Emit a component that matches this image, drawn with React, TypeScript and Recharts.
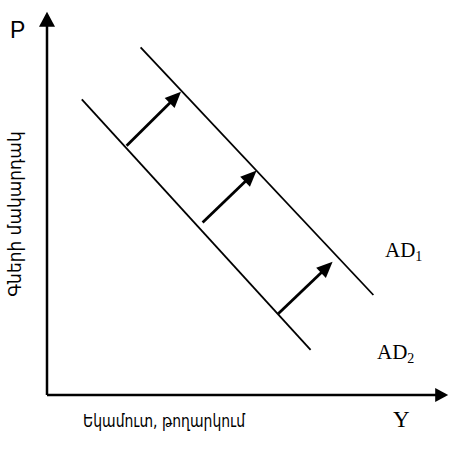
import { ComposedChart, Line, XAxis, YAxis, ReferenceLine } from 'recharts';

// output (Y) and price level (P) coordinates, arbitrary units
const ad1Output = [23.4, 81.6];
const ad1Price = [86.9, 25];
const ad2Output = [8.7, 65.9];
const ad2Price = [73.9, 11.3];

// the three shift arrows from AD2 to AD1
const shiftFromOutput = [19.9, 38.9, 57.8];
const shiftFromPrice = [62.3, 43.1, 20.3];
const shiftToOutput = [33.5, 52.4, 71.4];
const shiftToPrice = [75.8, 56.1, 33.3];

const axisMaxOutput = 100.3;
const axisMaxPrice = 95.8;

const ad1 = ad1Output.map((x, i) => ({ x, p: ad1Price[i] }));
const ad2 = ad2Output.map((x, i) => ({ x, p: ad2Price[i] }));

const font = '"DejaVu Sans", sans-serif';
const latin = '"Liberation Sans", Arial, sans-serif';
const serif = '"Liberation Serif", "Times New Roman", serif';

const arrowShape = (len: number, half: number, width: number) => (props: any) => {
  const { x1, y1, x2, y2 } = props;
  const dx = x2 - x1;
  const dy = y2 - y1;
  const d = Math.sqrt(dx * dx + dy * dy) || 1;
  const ux = dx / d;
  const uy = dy / d;
  const bx = x2 - ux * len;
  const by = y2 - uy * len;
  const pts = [
    [x2, y2],
    [bx - uy * half, by + ux * half],
    [bx + uy * half, by - ux * half],
  ]
    .map((p) => p.join(','))
    .join(' ');
  return (
    <g>
      <line x1={x1} y1={y1} x2={bx + ux * 2} y2={by + uy * 2} stroke="#000" strokeWidth={width} />
      <polygon points={pts} fill="#000" />
    </g>
  );
};

export default function App() {
  return (
    <div style={{ position: 'absolute', left: 0, top: 0, width: 449, height: 459, background: '#fff' }}>
      <ComposedChart width={449} height={459} margin={{ top: 11, right: 2, left: 47, bottom: 64 }}>
        <XAxis type="number" dataKey="x" domain={[0, 100]} hide allowDataOverflow />
        <YAxis type="number" dataKey="p" domain={[0, 96]} hide allowDataOverflow />
        <ReferenceLine
          segment={[{ x: 0, y: 0 }, { x: axisMaxOutput, y: 0 }]}
          ifOverflow="visible"
          shape={arrowShape(13, 7, 2.5)}
        />
        <ReferenceLine
          segment={[{ x: 0, y: 0 }, { x: 0, y: axisMaxPrice }]}
          ifOverflow="visible"
          shape={arrowShape(15, 8, 2.5)}
        />
        <Line data={ad1} dataKey="p" stroke="#000" strokeWidth={1.8} dot={false} isAnimationActive={false} />
        <Line data={ad2} dataKey="p" stroke="#000" strokeWidth={1.8} dot={false} isAnimationActive={false} />
        {shiftFromOutput.map((x, i) => (
          <ReferenceLine
            key={i}
            segment={[{ x, y: shiftFromPrice[i] }, { x: shiftToOutput[i], y: shiftToPrice[i] }]}
            ifOverflow="visible"
            shape={arrowShape(16, 7, 2.8)}
          />
        ))}
        <text x={10} y={38} fontFamily={latin} fontSize={23} fill="#000">P</text>
        <text
          x={15}
          y={214}
          transform="rotate(-90 15 214)"
          textAnchor="middle"
          dominantBaseline="central"
          fontFamily={font}
          fontSize={17}
          fill="#000"
        >
          Գների մակարդակ
        </text>
        <text
          x={83}
          y={427}
          fontFamily={font}
          fontSize={18}
          textLength={162}
          lengthAdjust="spacingAndGlyphs"
          fill="#000"
        >
          Եկամուտ, թողարկում
        </text>
        <text x={393} y={427} fontFamily={serif} fontSize={23} fill="#000">Y</text>
        <text x={385} y={257} fontFamily={serif} fontSize={21} fill="#000">
          AD<tspan fontSize={14} dy={4}>1</tspan>
        </text>
        <text x={377} y={359} fontFamily={serif} fontSize={21} fill="#000">
          AD<tspan fontSize={14} dy={4}>2</tspan>
        </text>
      </ComposedChart>
    </div>
  );
}
